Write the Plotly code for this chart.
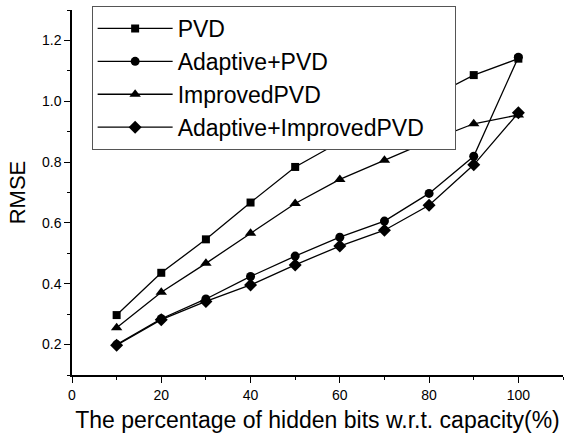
import plotly.graph_objects as go

x_vals = [10, 20, 30, 40, 50, 60, 70, 80, 90, 100]
pvd = [0.297, 0.436, 0.546, 0.667, 0.784, 0.866, 0.94, 1.01, 1.086, 1.14]
adaptive_pvd = [0.200, 0.285, 0.350, 0.424, 0.491, 0.553, 0.606, 0.697, 0.819, 1.145]
improved_pvd = [0.255, 0.372, 0.467, 0.566, 0.664, 0.743, 0.806, 0.869, 0.926, 0.955]
adaptive_improved = [0.198, 0.282, 0.342, 0.396, 0.462, 0.524, 0.576, 0.658, 0.791, 0.962]

names = ["PVD", "Adaptive+PVD", "ImprovedPVD", "Adaptive+ImprovedPVD\u00a0\u00a0\u00a0\u00a0"]
series = [pvd, adaptive_pvd, improved_pvd, adaptive_improved]
symbols = ["square", "circle", "triangle-up", "diamond"]
sizes = [8, 9, 10, 10]

fig = go.Figure()
for n, s, sym, sz in zip(names, series, symbols, sizes):
    fig.add_trace(go.Scatter(
        x=x_vals, y=s, name=n, mode="lines+markers",
        line=dict(color="black", width=1.3),
        marker=dict(symbol=sym, size=sz, color="black"),
    ))

font_family = "Liberation Sans, Arial, sans-serif"
fig.update_layout(
    width=568, height=441,
    margin=dict(l=72, r=5, t=10, b=66),
    paper_bgcolor="white", plot_bgcolor="white",
    font=dict(family=font_family, color="black"),
    showlegend=True,
    legend=dict(
        x=0.04, y=1.011, xanchor="left", yanchor="top",
        bgcolor="white", bordercolor="#555", borderwidth=1,
        font=dict(size=23, family=font_family, color="black"),
        itemwidth=75, tracegroupgap=0,
    ),
    xaxis=dict(
        range=[0, 110], tickvals=[0, 20, 40, 60, 80, 100],
        ticks="outside", ticklen=6, tickwidth=1.3, tickcolor="black",
        minor=dict(tickvals=[10, 30, 50, 70, 90, 110], ticks="outside", ticklen=3, tickcolor="black", tickwidth=1.3),
        showline=True, linecolor="black", linewidth=1.5, showgrid=False, zeroline=False,
        tickfont=dict(size=14),
        title=dict(text="The percentage of hidden bits w.r.t. capacity(%)", font=dict(size=23), standoff=10),
    ),
    yaxis=dict(
        range=[0.1, 1.3], tickvals=[0.2, 0.4, 0.6, 0.8, 1.0, 1.2], tickformat=".1f",
        ticks="outside", ticklen=6, tickwidth=1.3, tickcolor="black",
        minor=dict(tickvals=[0.1, 0.3, 0.5, 0.7, 0.9, 1.1, 1.3], ticks="outside", ticklen=3, tickcolor="black", tickwidth=1.3),
        showline=True, linecolor="black", linewidth=1.5, showgrid=False, zeroline=False,
        tickfont=dict(size=14),
        title=dict(text="RMSE", font=dict(size=22), standoff=10),
    ),
)

fig.write_html("out.html")
